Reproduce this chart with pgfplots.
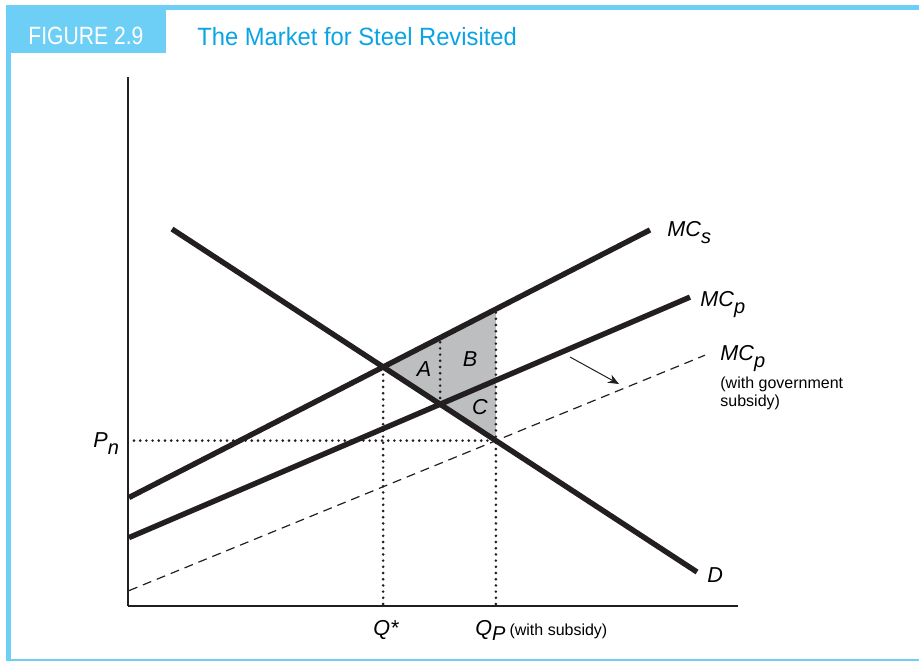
\documentclass[border=0pt]{standalone}
\usepackage{fontspec}
\setmainfont{Liberation Sans}
\newfontfamily\figfont[FakeStretch=0.845]{Liberation Sans}
\newfontfamily\titlefont[FakeStretch=0.95]{Liberation Sans}
\usepackage{pgfplots}
\pgfplotsset{compat=1.18}
\usetikzlibrary{arrows.meta}
\definecolor{ink}{HTML}{231F20}
\definecolor{boxblue}{HTML}{6DCFF6}
\definecolor{titleblue}{HTML}{0AA4E4}
\definecolor{shade}{HTML}{BCBEC0}
\newcommand{\lab}{\fontsize{10.8}{13}\selectfont\itshape}
\newcommand{\sub}[1]{\raisebox{-3.5pt}{\fontsize{10}{12}\selectfont\itshape #1}}
\begin{document}
\begin{tikzpicture}
\begin{axis}[x=0.5pt,y=0.5pt,xmin=0,xmax=610,ymin=0,ymax=529,
  axis lines=left, axis line style={-,line width=1.25pt,ink},
  xtick=\empty, ytick=\empty, clip=false,
  curve/.style={ink,line width=2.7pt,line cap=butt},
  dotl/.style={ink,line width=1.45pt,dash pattern=on 0pt off 3.1pt,line cap=round}]
% frame
\path (-128,-55) rectangle (791,606);
\fill[boxblue] (-122,596) rectangle (791,601);
\fill[boxblue] (-122,-53) rectangle (-117,601);
\fill[boxblue] (-122,-55) rectangle (791,-53);
\fill[boxblue] (-122,553) rectangle (38,601);
\node[anchor=base west, white, font=\figfont\fontsize{12.5}{15}\selectfont, inner sep=0] at (-100,562) {FIGURE 2.9};
\node[anchor=base west, titleblue, font=\titlefont\fontsize{12.5}{15}\selectfont, inner sep=0] at (69,561) {The Market for Steel Revisited};
% shaded area A+B+C
\addplot[fill=shade, draw=none] coordinates {(255.14,239.0) (367.89,296.9) (367.89,165.4)} -- cycle;
% dotted guides
\addplot[dotl] coordinates {(255.14,2) (255.14,239.0)};
\addplot[dotl] coordinates {(312.13,201.8) (312.13,268.3)};
\addplot[dotl] coordinates {(367.89,2) (367.89,296.9)};
\addplot[dotl] coordinates {(6,165.4) (367.89,165.4)};
% subsidised MC
\addplot[ink,line width=0.6pt,dash pattern=on 4.5pt off 3pt] coordinates {(1,15.4) (577,250.8)};
% curves
\addplot[curve] coordinates {(1,108.5) (522,376.05)};
\addplot[curve] coordinates {(1,68.4) (562,308.9)};
\addplot[curve] coordinates {(44,376.96) (569,34.0)};
% arrow
\draw[-{Stealth[length=5.5pt,width=4.5pt]}, ink, line width=0.5pt] (442,249) -- (491,222);
% labels
\node[anchor=base west, inner sep=0, font=\lab] at (539,370) {MC\sub{s}};
\node[anchor=base west, inner sep=0, font=\lab] at (572,300) {MC\sub{p}};
\node[anchor=base west, inner sep=0, font=\lab] at (592,246) {MC\sub{p}};
\node[anchor=base west, inner sep=0, font=\fontsize{8}{10}\selectfont] at (592,218) {(with government};
\node[anchor=base west, inner sep=0, font=\fontsize{8}{10}\selectfont] at (592,200) {subsidy)};
\node[anchor=base west, inner sep=0, font=\lab] at (579,24) {D};
\node[anchor=base west, inner sep=0, font=\lab] at (-35,159) {P\sub{n}};
\node[anchor=base west, inner sep=0, font=\lab] at (245,-29) {Q*};
\node[anchor=base west, inner sep=0, font=\lab] at (347,-29) {Q\raisebox{-2.5pt}{\fontsize{10}{12}\selectfont\itshape P}\hspace{2pt}{\upshape\fontsize{8}{10}\selectfont(with subsidy)}};
\node[anchor=base, inner sep=0, font=\lab] at (296,230) {A};
\node[anchor=base, inner sep=0, font=\lab] at (342,240) {B};
\node[anchor=base, inner sep=0, font=\lab] at (352,192) {C};
\end{axis}
\end{tikzpicture}
\end{document}
